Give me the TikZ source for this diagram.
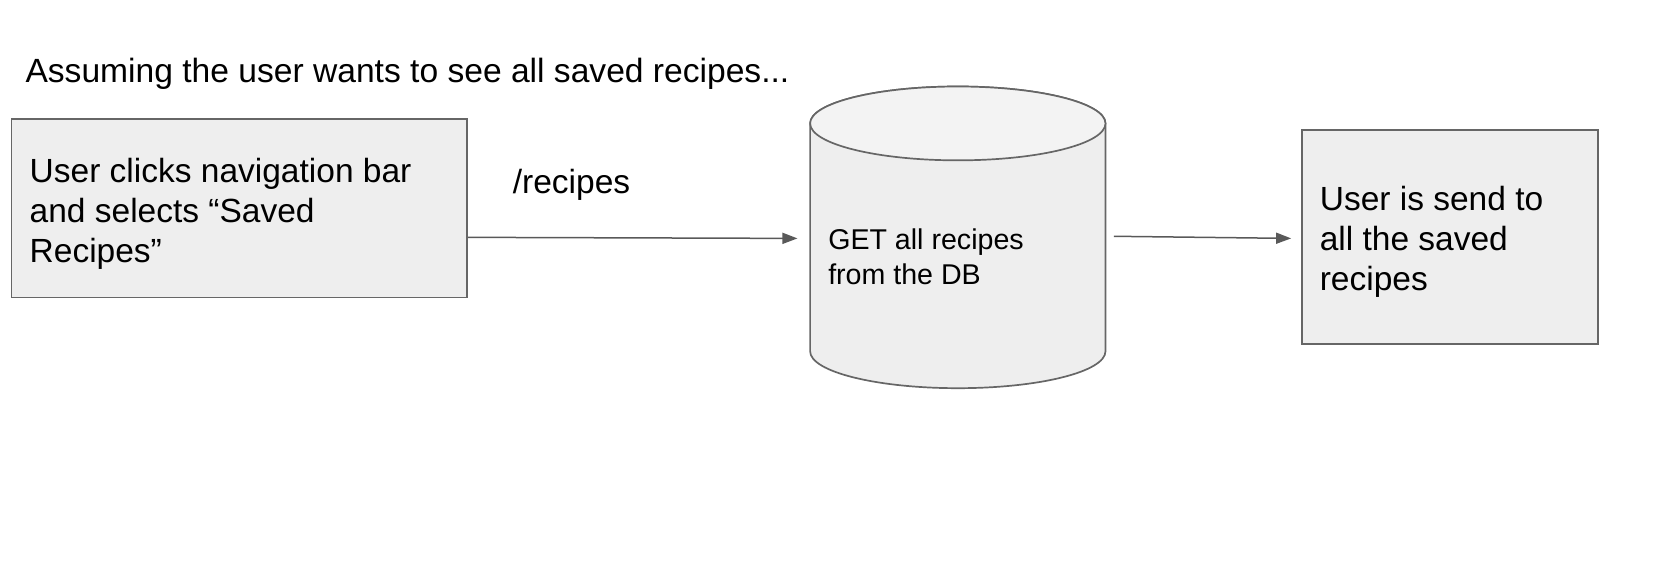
\documentclass[tikz,border=0pt]{standalone}
\usepackage{fontspec}
\setmainfont{Liberation Sans}
\usetikzlibrary{arrows.meta}
\definecolor{boxfill}{HTML}{EEEEEE}
\definecolor{topfill}{HTML}{F3F3F3}
\definecolor{edge}{HTML}{666666}
\definecolor{arrowc}{HTML}{595959}
\tikzset{
  boxshape/.style={draw=edge, fill=boxfill, line width=1.7pt, rectangle, inner sep=0pt},
  bigtext/.style={font=\fontsize{33.5}{40}\selectfont, align=left, inner sep=0pt, anchor=north west},
  smalltext/.style={font=\fontsize{28.6}{34.8}\selectfont, align=left, inner sep=0pt, anchor=north west},
  flow/.style={draw=arrowc, line width=1.5pt, -{Triangle[length=15pt,width=11pt]}}
}
\begin{document}
\begin{tikzpicture}[x=1.0548pt,y=-1.0548pt]
\useasboundingbox (0,0) rectangle (1568,546);
% title
\node[font=\fontsize{33.6}{40}\selectfont, anchor=base west, inner sep=0pt] (title) at (24,78) {Assuming the user wants to see all saved recipes...};
% box 1
\node[boxshape, minimum width=455.7pt, minimum height=178.3pt] (b1) at (227,197.5) {};
\node[bigtext] (t1) at (28,150) {User clicks navigation bar\\and selects “Saved\\Recipes”};
% cylinder
\path[draw=edge, fill=boxfill, line width=1.7pt] (768,117) -- (768,333) arc[start angle=180, end angle=0, x radius=140, y radius=35] -- (1048,117) arc[start angle=0, end angle=-180, x radius=140, y radius=35] -- cycle;
\path[draw=edge, fill=topfill, line width=1.7pt] (908,117) ellipse[x radius=140, y radius=35];
\coordinate (dbin) at (756,226);
\coordinate (dbout) at (1056,224);
\node[smalltext] (t2) at (785,216.5) {GET all recipes\\from the DB};
% box 3
\node[boxshape, minimum width=296.4pt, minimum height=214.1pt] (b3) at (1374.5,224.5) {};
\node[bigtext] (t3) at (1251,176) {User is send to\\all the saved\\recipes};
% arrows
\draw[flow] (b1.east |- 0,225) -- (dbin);
\node[font=\fontsize{33.5}{40}\selectfont, anchor=base west, inner sep=0pt] (lbl) at (486,183) {/recipes};
\coordinate (b3in) at (1224,226);
\draw[flow] (dbout) -- (b3in);
\end{tikzpicture}
\end{document}
